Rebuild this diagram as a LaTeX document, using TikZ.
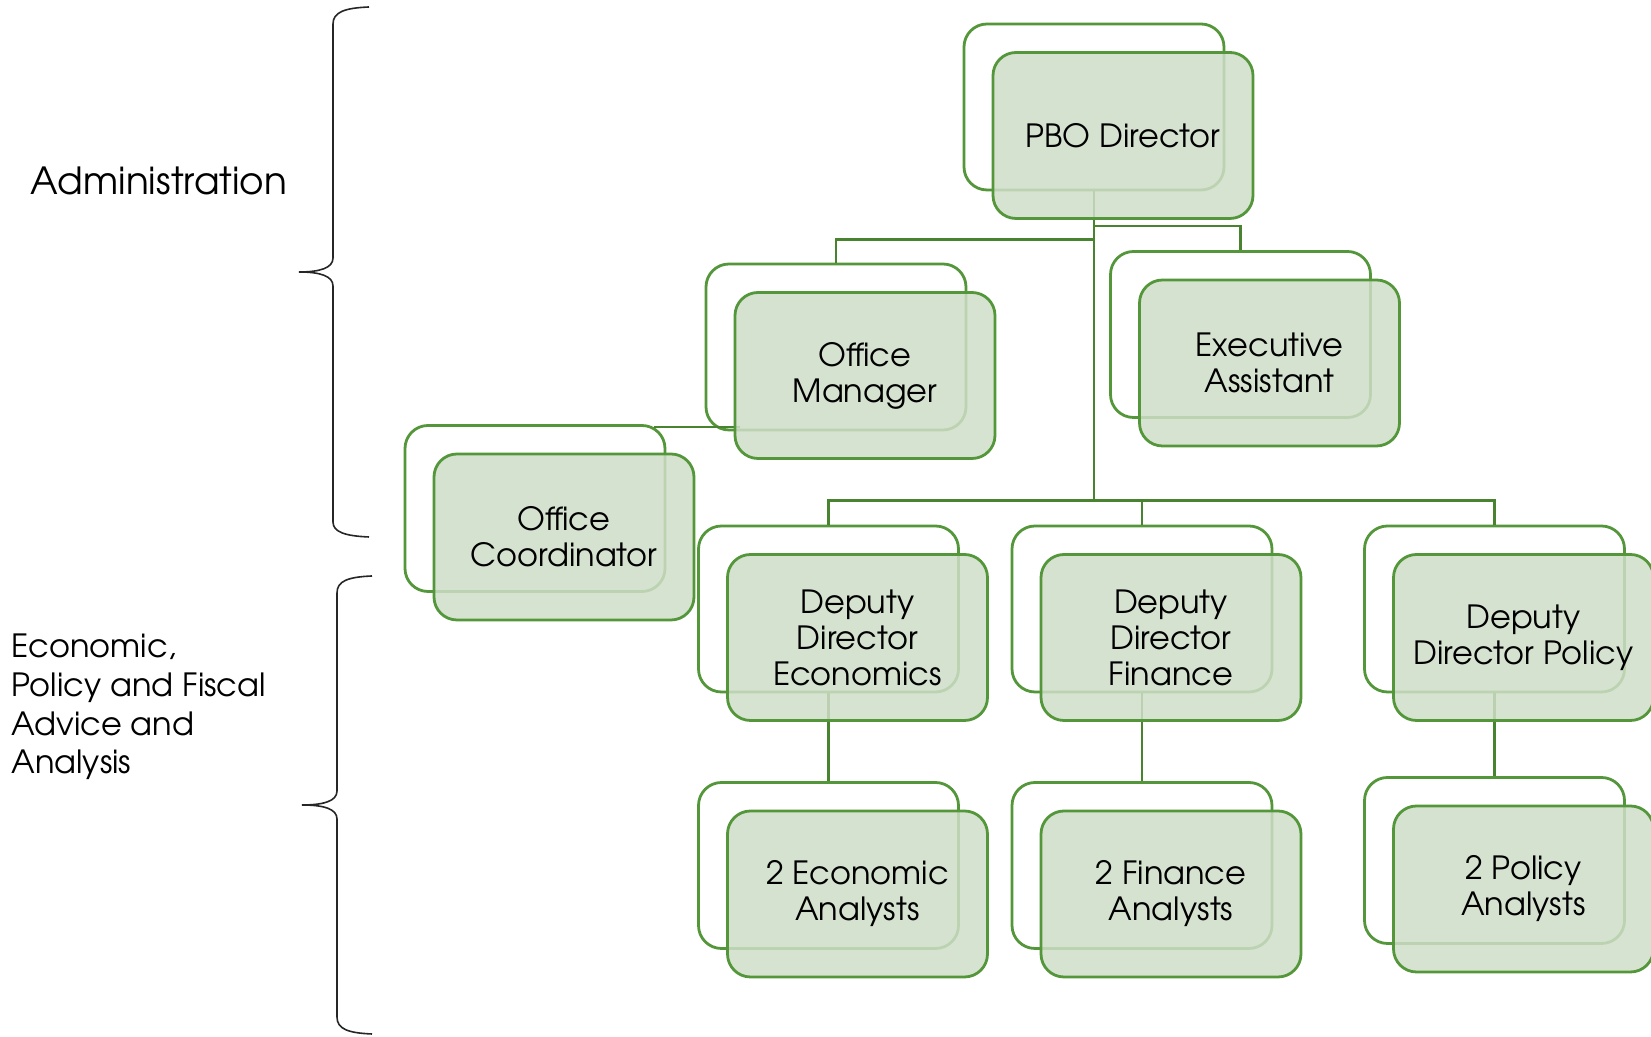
\documentclass[tikz,border=0pt]{standalone}
\usepackage{fontspec}
\setmainfont{TeX Gyre Adventor}
\usetikzlibrary{positioning}
\definecolor{boxline}{RGB}{84,150,58}
\definecolor{linkcolor}{RGB}{72,132,48}
\definecolor{boxfill}{RGB}{207,222,200}

\begin{document}
\begin{tikzpicture}[%
    x=0.5pt, y=0.5pt,           % one unit is one pixel of the chart
    node distance=10pt,         % Global setup of box spacing
    ]
\tikzset{
  base/.style={draw=boxline, line width=1.4pt, rounded corners=11.5pt, on grid,
               minimum width=130pt, minimum height=83pt},
  back/.style={base, fill=white},
  front/.style={base, fill=boxfill, fill opacity=0.85, text opacity=1, align=center,
                font=\fontsize{16}{18}\selectfont},
  link/.style={draw=linkcolor, line width=1.3pt},
  brace/.style={draw=black!85, line width=0.8pt},
}
\useasboundingbox (0,0) rectangle (1651,1037);

% back frames
\node [back] (pbo-b) at (1094,930) {};
\node [back,below left=120pt and 129pt of pbo-b] (om-b) {};
\node [back,below right=113.75pt and 73.25pt of pbo-b] (ea-b) {};
\node [back,below left=80.75pt and 150.5pt of om-b] (oc-b) {};
\node [back,below left=251pt and 132.75pt of pbo-b] (dde-b) {};
\node [back,right=156.75pt of dde-b] (ddf-b) {};
\node [back,right=176.25pt of ddf-b] (ddp-b) {};
\node [back,below=128.25pt of dde-b] (ea2-b) {};
\node [back,below=128.25pt of ddf-b] (fa2-b) {};
\node [back,below=125.75pt of ddp-b] (pa2-b) {};

%connect
\draw [link] (pbo-b.south) |- ([yshift=11.5pt]om-b.north) -- (om-b.north);
\draw [link] (pbo-b.south) |- ([yshift=12pt]ea-b.north) -- (ea-b.north);
\draw [link] (pbo-b.south) |- ([yshift=12pt]dde-b.north) -- (dde-b.north);
\draw [link] ([yshift=12pt]dde-b.north) -| (ddp-b.north);
\draw [link] ([yshift=12pt]ddf-b.north) -- (ddf-b.north);
\draw [link] ([xshift=-6pt,yshift=-1.5pt]oc-b.north east) -- ++(43pt,0);
\draw [link] (dde-b.south) -- (ea2-b.north);
\draw [link] (ddf-b.south) -- (fa2-b.north);
\draw [link] (ddp-b.south) -- (pa2-b.north);

% front boxes
\node [front,below right=14.25pt and 14.5pt of pbo-b] (pbo) {PBO Director};
\node [front,below right=14.25pt and 14.5pt of om-b] (om) {Office\\Manager};
\node [front,below right=14.25pt and 14.5pt of ea-b] (ea) {Executive\\Assistant};
\node [front,below right=14.25pt and 14.5pt of oc-b] (oc) {Office\\Coordinator};
\node [front,below right=14.25pt and 14.5pt of dde-b] (dde) {Deputy\\Director\\Economics};
\node [front,below right=14.25pt and 14.5pt of ddf-b] (ddf) {Deputy\\Director\\Finance};
\node [front,below right=14.25pt and 14.5pt of ddp-b] (ddp) {Deputy\\Director Policy};
\node [front,below right=14.25pt and 14.5pt of ea2-b] (ea2) {2 Economic\\Analysts};
\node [front,below right=14.25pt and 14.5pt of fa2-b] (fa2) {2 Finance\\Analysts};
\node [front,below right=14.25pt and 14.5pt of pa2-b] (pa2) {2 Policy\\Analysts};

% groups
\node [font=\fontsize{18.7}{23}\selectfont] (admin) at (159,856) {Administration};
\node [anchor=west, align=left, inner sep=0pt, font=\fontsize{16}{19.3}\selectfont]
      (econ) at (11,330) {Economic,\\Policy and Fiscal\\Advice and\\Analysis};
\draw [brace] (369,1030) .. controls (345,1029) and (333,1025) .. (333,1013)
  -- (333,779) .. controls (333,769) and (320,765) .. (299,765)
  .. controls (320,765) and (333,761) .. (333,751)
  -- (333,515) .. controls (333,505) and (345,501) .. (369,500);
\draw [brace] (372,461) .. controls (348,460) and (337,456) .. (337,444)
  -- (337,246) .. controls (337,236) and (324,232) .. (302,232)
  .. controls (324,232) and (337,228) .. (337,218)
  -- (337,20) .. controls (337,8) and (348,4) .. (372,3);

\end{tikzpicture}
\end{document}
